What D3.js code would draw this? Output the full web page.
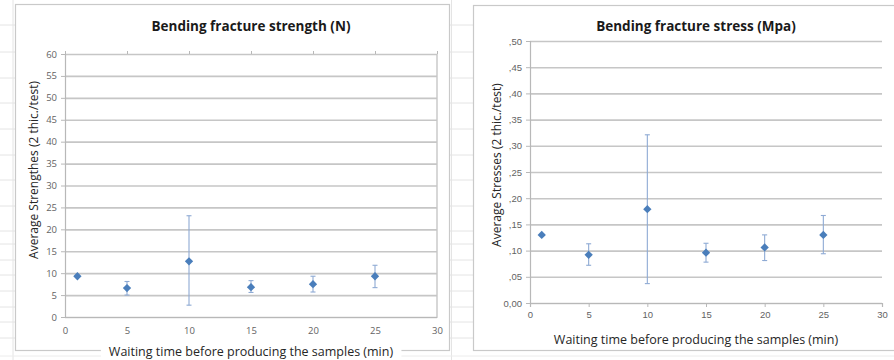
<!DOCTYPE html>
<html>
<head>
<meta charset="utf-8">
<script src="https://cdn.jsdelivr.net/npm/d3@7"></script>
<style>
  body { margin: 0; background: #fff; }
  svg { display: block; font-family: "Open Sans", Lato, sans-serif; }
</style>
</head>
<body>
<svg id="chart" width="894" height="360"></svg>
<script>
// waiting time (min)
const waitTimes = [1, 5, 10, 15, 20, 25];

// bending fracture strength (N)
const strengthMean = [9.3, 6.6, 12.7, 6.8, 7.5, 9.3];
const strengthLow = [null, 5.0, 2.7, 5.6, 5.7, 6.7];
const strengthHigh = [null, 8.1, 23.1, 8.3, 9.3, 11.8];
const strengthTicks = [0, 5, 10, 15, 20, 25, 30, 35, 40, 45, 50, 55, 60];

// bending fracture stress (Mpa)
const stressMean = [0.130, 0.092, 0.179, 0.096, 0.106, 0.130];
const stressLow = [null, 0.072, 0.037, 0.078, 0.081, 0.094];
const stressHigh = [null, 0.113, 0.321, 0.114, 0.130, 0.167];
const stressTicks = [0, 0.05, 0.10, 0.15, 0.20, 0.25, 0.30, 0.35, 0.40, 0.45, 0.50];
const stressTickLabels = ['0,00', ',05', ',10', ',15', ',20', ',25', ',30', ',35', ',40', ',45', ',50'];

const xTicks = [0, 5, 10, 15, 20, 25, 30];

const svg = d3.select('#chart');

// faint spreadsheet cells behind the charts
const bg = svg.append('g').attr('stroke', '#e4e4e4').attr('stroke-width', 1);
[25, 52, 78, 103, 129, 155, 180, 206, 231, 244, 260, 275, 291, 307, 322, 338].forEach(y => {
  bg.append('line').attr('x1', 449).attr('x2', 473).attr('y1', y).attr('y2', y);
  bg.append('line').attr('x1', 0).attr('x2', 15).attr('y1', y).attr('y2', y);
});
bg.append('line').attr('x1', 451.5).attr('x2', 451.5).attr('y1', 0).attr('y2', 360);
bg.append('line').attr('x1', 13).attr('x2', 13).attr('y1', 0).attr('y2', 360);
bg.append('line').attr('x1', 0).attr('x2', 894).attr('y1', 356).attr('y2', 356).attr('stroke', '#ececec');

function drawPanel(cfg) {
  const g = svg.append('g');

  // chart frame
  g.append('rect')
    .attr('x', cfg.frame[0] + 0.5).attr('y', cfg.frame[1] + 0.5)
    .attr('width', cfg.frame[2]).attr('height', cfg.frame[3])
    .attr('fill', '#fff').attr('stroke', '#c9c9c9').attr('stroke-width', 1.2);

  const x = d3.scaleLinear().domain([0, 30]).range([cfg.left, cfg.right]);
  const y = d3.scaleLinear().domain(cfg.yDomain).range([cfg.bottom, cfg.top]);

  // horizontal gridlines
  g.append('g')
    .attr('transform', `translate(${cfg.left},0)`)
    .call(d3.axisLeft(y).tickValues(cfg.yTicks).tickSize(-(cfg.right - cfg.left)).tickFormat(''))
    .call(a => a.select('.domain').remove())
    .call(a => a.selectAll('line').attr('stroke', '#c6c6c6').attr('stroke-width', 1.6));

  // y axis
  g.append('g')
    .attr('transform', `translate(${cfg.left},0)`)
    .call(d3.axisLeft(y).tickValues(cfg.yTicks).tickSize(4).tickPadding(4)
      .tickFormat((d, i) => cfg.yLabels[i]))
    .call(a => a.select('.domain').attr('stroke', '#b8b8b8').attr('stroke-width', 1.2))
    .call(a => a.selectAll('line').attr('stroke', '#b8b8b8'))
    .call(a => a.selectAll('text').attr('fill', '#636363').style('font-size', '9.5px')
      .style('font-family', cfg.tickFont));

  // x axis
  g.append('g')
    .attr('transform', `translate(0,${cfg.bottom})`)
    .call(d3.axisBottom(x).tickValues(xTicks).tickSize(cfg.xTickSize).tickPadding(cfg.xTickPad))
    .call(a => a.select('.domain').attr('stroke', '#b8b8b8').attr('stroke-width', 1.2))
    .call(a => a.selectAll('line').attr('stroke', '#b8b8b8'))
    .call(a => a.selectAll('text').attr('fill', '#636363').style('font-size', '9.5px')
      .style('font-family', cfg.tickFont));

  if (cfg.topTicks) {
    g.append('g')
      .attr('transform', `translate(0,${cfg.top})`)
      .call(d3.axisTop(x).tickValues(xTicks).tickSize(3).tickFormat(''))
      .call(a => a.select('.domain').remove())
      .call(a => a.selectAll('line').attr('stroke', '#b8b8b8'));
    g.append('line')
      .attr('x1', cfg.right).attr('x2', cfg.right)
      .attr('y1', cfg.top).attr('y2', cfg.bottom)
      .attr('stroke', '#c6c6c6').attr('stroke-width', 1.4);
  }

  const rows = waitTimes.map((t, i) => ({t, m: cfg.mean[i], lo: cfg.low[i], hi: cfg.high[i]}));

  // error bars
  const err = g.append('g').attr('stroke', '#8eaad4').attr('stroke-width', 1.1)
    .selectAll('g').data(rows.filter(d => d.lo !== null)).enter().append('g');
  err.append('line')
    .attr('x1', d => x(d.t)).attr('x2', d => x(d.t))
    .attr('y1', d => y(d.lo)).attr('y2', d => y(d.hi));
  err.append('line')
    .attr('x1', d => x(d.t) - 2.5).attr('x2', d => x(d.t) + 2.5)
    .attr('y1', d => y(d.lo)).attr('y2', d => y(d.lo));
  err.append('line')
    .attr('x1', d => x(d.t) - 2.5).attr('x2', d => x(d.t) + 2.5)
    .attr('y1', d => y(d.hi)).attr('y2', d => y(d.hi));

  // diamond markers
  g.append('g').selectAll('path').data(rows).enter().append('path')
    .attr('d', d3.symbol(d3.symbolDiamond2, 44))
    .attr('transform', d => `translate(${x(d.t)},${y(d.m)})`)
    .attr('fill', '#4a7ebb');

  // titles
  g.append('text')
    .attr('x', cfg.titleX).attr('y', 31)
    .attr('text-anchor', 'middle')
    .style('font-size', '13.5px').style('font-weight', 'bold').attr('fill', '#1a1a1a')
    .text(cfg.title);

  const xt = g.append('text')
    .attr('x', cfg.titleX).attr('y', cfg.xTitleY)
    .attr('text-anchor', 'middle')
    .style('font-size', '12.5px').attr('fill', '#262626')
    .text('Waiting time before producing the samples (min)');
  const bb = xt.node().getBBox();
  g.insert('rect', function() { return xt.node(); })
    .attr('x', bb.x - 8).attr('y', bb.y).attr('width', bb.width + 16).attr('height', bb.height)
    .attr('fill', '#fff');

  g.append('text')
    .attr('transform', `translate(${cfg.yTitleX},${cfg.yTitleY}) rotate(-90)`)
    .attr('text-anchor', 'middle')
    .style('font-size', '12px').attr('fill', '#262626')
    .text(cfg.yTitle);
}

drawPanel({
  frame: [15, 4, 434, 346],
  left: 65, right: 437, top: 54, bottom: 317,
  yDomain: [0, 60], yTicks: strengthTicks, yLabels: strengthTicks.map(String),
  mean: strengthMean, low: strengthLow, high: strengthHigh,
  xTickSize: 0, xTickPad: 10, topTicks: true,
  tickFont: '"Open Sans", sans-serif',
  title: 'Bending fracture strength (N)', titleX: 251,
  xTitleY: 356, yTitle: 'Average Strengthes (2 thic./test)', yTitleX: 38, yTitleY: 170
});

drawPanel({
  frame: [473, 5, 430, 345],
  left: 530, right: 882, top: 41, bottom: 303,
  yDomain: [0, 0.5], yTicks: stressTicks, yLabels: stressTickLabels,
  mean: stressMean, low: stressLow, high: stressHigh,
  xTickSize: 4, xTickPad: 4, topTicks: false,
  tickFont: '"Liberation Sans", Arial, sans-serif',
  title: 'Bending fracture stress (Mpa)', titleX: 696,
  xTitleY: 344, yTitle: 'Average Stresses (2 thic./test)', yTitleX: 501, yTitleY: 165
});
</script>
</body>
</html>
